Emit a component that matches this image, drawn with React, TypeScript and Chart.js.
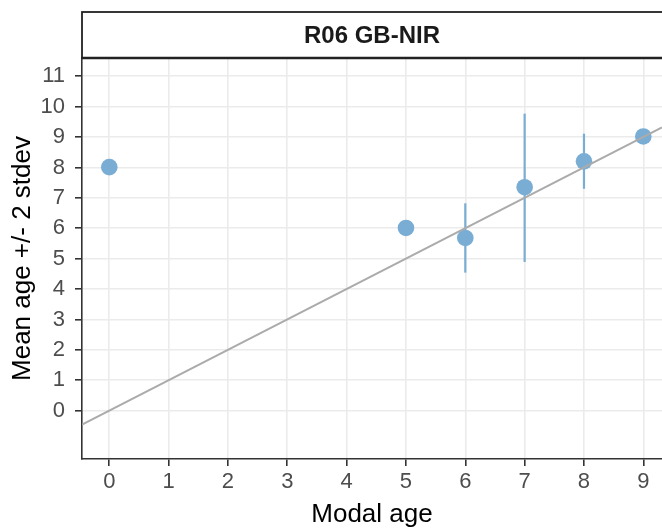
import React, { useEffect, useRef } from "react";
import { Chart, registerables } from "chart.js";

Chart.register(...registerables);

// ---- data ----
const facetLabel = "R06 GB-NIR";
const xTitle = "Modal age";
const yTitle = "Mean age +/- 2 stdev";

const modalAge = [0, 5, 6, 7, 8, 9];
const meanAge = [8.01, 6.01, 5.68, 7.35, 8.2, 9.02];

const errX = [6, 7, 8];
const errLow = [4.54, 4.89, 7.3];
const errHigh = [6.82, 9.77, 9.11];

const xTicks = [0, 1, 2, 3, 4, 5, 6, 7, 8, 9];
const yTicks = [0, 1, 2, 3, 4, 5, 6, 7, 8, 9, 10, 11];

const xLimits = [-0.46, 9.315];
const yLimits = [-1.59, 11.6];

const POINT_COLOR = "#7aadd4";
const FONT = "'Liberation Sans', Arial, sans-serif";

const stripPlugin = {
  id: "strip",
  afterDraw(chart: any) {
    const { ctx, chartArea } = chart;
    const left = chartArea.left;
    const right = chart.width + 5;
    const top = 12;
    const bottom = chartArea.top;
    ctx.save();
    ctx.fillStyle = "#ffffff";
    ctx.fillRect(left, top, right - left, bottom - top);
    ctx.strokeStyle = "#222222";
    ctx.lineWidth = 1.8;
    ctx.strokeRect(left, top, right - left, bottom - top);
    ctx.lineWidth = 2.6;
    ctx.beginPath();
    ctx.moveTo(left, bottom);
    ctx.lineTo(right, bottom);
    ctx.stroke();
    ctx.fillStyle = "#1a1a1a";
    ctx.font = `bold 24px ${FONT}`;
    ctx.textAlign = "center";
    ctx.textBaseline = "middle";
    ctx.fillText(facetLabel, (chartArea.left + chart.width) / 2, (top + bottom) / 2 + 1);
    ctx.restore();
  },
};

export default function App() {
  const ref = useRef<HTMLCanvasElement>(null);

  useEffect(() => {
    if (!ref.current) return;
    const errorDatasets = errX.map((x, i) => ({
      type: "scatter" as const,
      data: [
        { x, y: errLow[i] },
        { x, y: errHigh[i] },
      ],
      showLine: true,
      borderColor: POINT_COLOR,
      borderWidth: 2.2,
      pointRadius: 0,
      order: 3,
    }));
    const chart = new Chart(ref.current, {
      type: "scatter",
      data: {
        datasets: [
          {
            data: [
              { x: xLimits[0], y: xLimits[0] },
              { x: xLimits[1], y: xLimits[1] },
            ],
            showLine: true,
            borderColor: "#ababab",
            borderWidth: 2,
            pointRadius: 0,
            order: 0,
          },
          {
            data: modalAge.map((x, i) => ({ x, y: meanAge[i] })),
            backgroundColor: POINT_COLOR,
            borderWidth: 0,
            pointRadius: 8.3,
            order: 1,
          },
          ...errorDatasets,
        ],
      },
      options: {
        animation: false,
        responsive: false,
        layout: { autoPadding: false, padding: { top: 58, left: 0, right: 0, bottom: 0 } },
        plugins: {
          legend: { display: false },
          tooltip: { enabled: false },
        },
        scales: {
          x: {
            type: "linear",
            min: xLimits[0],
            max: xLimits[1],
            afterBuildTicks: (s: any) => {
              s.ticks = xTicks.map((v) => ({ value: v }));
            },
            afterFit: (s: any) => {
              s.height = 71;
            },
            grid: {
              color: "#ebebeb",
              lineWidth: 1.6,
              tickColor: "#333333",
              tickLength: 7,
              tickWidth: 1.6,
            },
            border: { color: "#333333", width: 1.6 },
            ticks: {
              color: "#4d4d4d",
              font: { family: FONT, size: 22 },
              padding: 3,
              maxRotation: 0,
            },
            title: {
              display: true,
              text: xTitle,
              color: "#000000",
              font: { family: FONT, size: 26 },
              padding: { top: 0, bottom: 0 },
            },
          },
          y: {
            type: "linear",
            min: yLimits[0],
            max: yLimits[1],
            afterBuildTicks: (s: any) => {
              s.ticks = yTicks.map((v) => ({ value: v }));
            },
            afterFit: (s: any) => {
              s.width = 82;
            },
            grid: {
              color: "#ebebeb",
              lineWidth: 1.6,
              tickColor: "#333333",
              tickLength: 7,
              tickWidth: 1.6,
            },
            border: { color: "#333333", width: 1.6 },
            ticks: {
              color: "#4d4d4d",
              font: { family: FONT, size: 22 },
              padding: 10,
            },
            title: {
              display: true,
              text: yTitle,
              color: "#000000",
              font: { family: FONT, size: 26 },
              padding: { top: 7, bottom: 0 },
            },
          },
        },
      },
      plugins: [stripPlugin],
    } as any);
    return () => chart.destroy();
  }, []);

  return (
    <div style={{ position: "absolute", left: 0, top: 0, width: 662, height: 530, background: "#fff" }}>
      <canvas ref={ref} width={662} height={530} />
    </div>
  );
}
